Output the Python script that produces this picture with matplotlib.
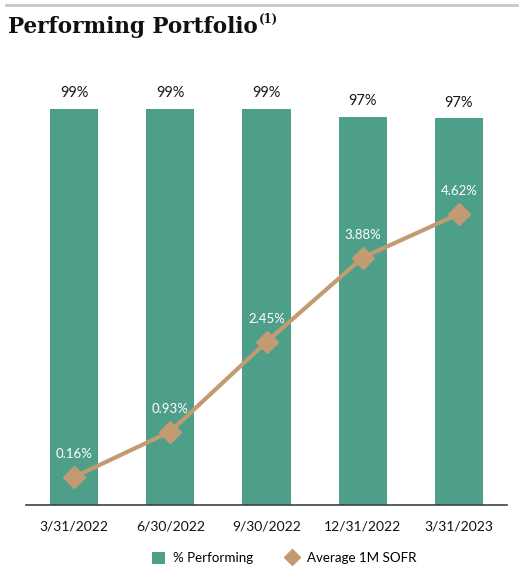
import matplotlib
matplotlib.use("Agg")
import matplotlib.pyplot as plt
from matplotlib.lines import Line2D
from matplotlib.patches import Patch
from matplotlib.text import Annotation

categories = ["3/31/2022", "6/30/2022", "9/30/2022", "12/31/2022", "3/31/2023"]
performing = [99.0, 99.0, 99.0, 97.0, 96.7]
performing_labels = ["99%", "99%", "99%", "97%", "97%"]
sofr = [0.16, 0.93, 2.45, 3.88, 4.62]
sofr_labels = ["0.16%", "0.93%", "2.45%", "3.88%", "4.62%"]

BAR_C = "#4D9F8A"
LINE_C = "#C49A72"
FONT = "Lato"

W, H = 520, 570
fig = plt.figure(figsize=(W / 100, H / 100), dpi=100)

# top rule
fig.add_artist(Line2D([6 / W, 517 / W], [1 - 5 / H, 1 - 5 / H], color="#c8c8c8", lw=2))
title = fig.text(8 / W, 1 - 33 / H, "Performing Portfolio", family="DejaVu Serif", weight="bold",
                 fontsize=15.5, va="baseline", ha="left", color="#111111")
sup = Annotation("(1)", xy=(1.0, 0.55), xycoords=title, xytext=(1, 0), textcoords="offset points",
                 family="DejaVu Serif", weight="bold", fontsize=8.5, ha="left", va="bottom",
                 color="#111111")
fig.add_artist(sup)

left, right = 26 / W, 507 / W
bottom, top = 1 - 505 / H, 1 - 80 / H
ax = fig.add_axes([left, bottom, right - left, top - bottom])
x = list(range(len(categories)))
ax.bar(x, performing, width=0.5, color=BAR_C, zorder=2)
ax.set_xlim(-0.5, 4.5)
ax.set_ylim(0, 106.2)
for xi, v, lab in zip(x, performing, performing_labels):
    ax.annotate(lab, (xi, v), xytext=(0, 6), textcoords="offset points",
                ha="center", va="bottom", family=FONT, fontsize=10.5, color="#1a1a1a")
ax.set_xticks(x)
ax.set_xticklabels(categories, family=FONT, fontsize=10, color="#111111")
ax.tick_params(axis="x", length=0, pad=11)
ax.set_yticks([])
for s in ["top", "left", "right"]:
    ax.spines[s].set_visible(False)
ax.spines["bottom"].set_color("#404040")
ax.spines["bottom"].set_linewidth(1.2)

ax2 = ax.twinx()
ax2.set_ylim(-0.315, 6.89)
ax2.plot(x, sofr, color=LINE_C, lw=3, marker="D", ms=11, zorder=3)
for xi, v, lab in zip(x, sofr, sofr_labels):
    ax2.annotate(lab, (xi, v), xytext=(0, 12), textcoords="offset points",
                 ha="center", va="bottom", family=FONT, fontsize=9.5, color="white")
ax2.set_yticks([])
for s in ["top", "left", "right", "bottom"]:
    ax2.spines[s].set_visible(False)

handles = [Patch(facecolor=BAR_C, edgecolor="none"),
           Line2D([], [], color=LINE_C, marker="D", ls="none", ms=8)]
fig.legend(handles, ["% Performing", "Average 1M SOFR"], loc="center",
           bbox_to_anchor=(0.546, 1 - 558 / H), ncol=2, frameon=False,
           prop={"family": FONT, "size": 9.6}, handlelength=1.0, handleheight=1.0,
           columnspacing=2.4, handletextpad=0.6)

fig.savefig("out.png", dpi=100)
